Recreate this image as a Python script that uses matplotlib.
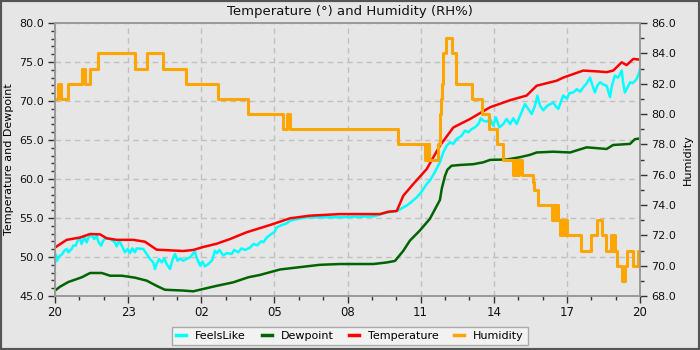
import matplotlib
matplotlib.use("Agg")
import matplotlib.pyplot as plt
from matplotlib.patches import Rectangle
from matplotlib.ticker import MultipleLocator, FormatStrFormatter

# Hours since 20:00 and readings
temp_h = [0.0, 0.04, 0.48, 1.03, 1.44, 1.85, 2.12, 2.53, 3.21, 3.69, 4.17, 5.26, 5.67,
          6.08, 6.63, 7.18, 7.86, 8.82, 9.64, 10.46, 11.69, 13.33, 13.67, 14.02, 14.29,
          14.70, 15.25, 15.79, 16.34, 17.03, 17.85, 18.67, 19.35, 19.76, 20.58, 20.85,
          21.67, 22.22, 22.63, 22.90, 23.25, 23.45, 23.73, 24.0]
temperature = [51.2, 51.3, 52.2, 52.5, 52.95, 52.9, 52.4, 52.2, 52.2, 51.96, 50.94, 50.77,
               50.9, 51.28, 51.7, 52.3, 53.17, 54.1, 54.96, 55.3, 55.5, 55.5, 55.8, 55.9,
               57.86, 59.36, 61.28, 64.27, 66.6, 67.7, 69.2, 70.1, 70.7, 71.96, 72.6, 73.0,
               73.9, 73.8, 73.7, 73.9, 74.96, 74.6, 75.4, 75.3]

dew_h = [0.0, 0.21, 0.55, 1.10, 1.44, 1.92, 2.26, 2.74, 3.28, 3.76, 4.17, 4.51, 5.26, 5.67,
         6.08, 6.63, 7.31, 7.93, 8.41, 9.23, 10.05, 10.87, 11.69, 13.06, 13.61, 13.95,
         14.29, 14.56, 14.97, 15.38, 15.79, 15.87, 16.0, 16.1, 16.27, 16.62, 17.16, 17.57,
         17.85, 18.53, 19.08, 19.49, 19.76, 20.44, 21.13, 21.81, 22.63, 22.90, 23.59,
         23.79, 24.0]
dewpoint = [45.7, 46.2, 46.8, 47.4, 47.95, 47.95, 47.6, 47.6, 47.35, 46.97, 46.3, 45.8, 45.7,
            45.6, 45.9, 46.3, 46.75, 47.4, 47.7, 48.4, 48.7, 49.0, 49.1, 49.1, 49.3, 49.5,
            50.8, 52.1, 53.4, 54.9, 57.3, 58.8, 60.4, 61.2, 61.7, 61.8, 61.9, 62.14,
            62.45, 62.5, 62.8, 63.1, 63.4, 63.5, 63.4, 64.06, 63.85, 64.36, 64.5,
            65.1, 65.2]

feels_h = [0.0, 0.04, 0.08, 0.14, 0.21, 0.30, 0.38, 0.48, 0.55, 0.68, 0.75, 0.85, 0.93,
           1.03, 1.09, 1.20, 1.30, 1.37, 1.50, 1.61, 1.71, 1.78, 1.89, 1.98, 2.08, 2.26,
           2.46, 2.53, 2.63, 2.74, 2.87, 2.98, 3.08, 3.17, 3.28, 3.35, 3.62, 3.76, 3.90,
           4.03, 4.10, 4.17, 4.27, 4.38, 4.49, 4.58, 4.72, 4.81, 4.92, 5.03, 5.13, 5.26,
           5.54, 5.74, 5.80, 5.95, 6.05, 6.15, 6.29, 6.45, 6.56, 6.65, 6.75, 6.90, 7.05,
           7.25, 7.35, 7.52, 7.65, 7.80, 8.0, 8.14, 8.30, 8.45, 8.55, 8.69, 8.85, 9.0,
           9.10, 9.30, 9.50, 9.64, 10.0, 10.33, 11.69, 13.06, 13.61, 14.02, 14.20, 14.43,
           14.60, 14.84, 15.0, 15.25, 15.40, 15.55, 15.79, 15.93, 16.07, 16.21, 16.34,
           16.48, 16.68, 16.82, 16.96, 17.09, 17.23, 17.37, 17.47, 17.57, 17.71, 17.85,
           17.98, 18.09, 18.23, 18.39, 18.53, 18.67, 18.80, 18.94, 19.08, 19.28, 19.42,
           19.56, 19.69, 19.79, 19.90, 20.03, 20.20, 20.44, 20.55, 20.65, 20.85, 21.0,
           21.10, 21.26, 21.40, 21.55, 21.67, 21.80, 21.95, 22.05, 22.15, 22.25, 22.36,
           22.50, 22.63, 22.77, 22.85, 22.97, 23.10, 23.25, 23.30, 23.38, 23.50, 23.59,
           23.70, 23.86, 23.95, 24.0]
feels_like = [49.6, 50.3, 49.5, 49.96, 50.17, 50.38, 50.81, 51.03, 50.6, 51.03, 51.46,
              51.46, 52.1, 52.31, 51.67, 52.52, 51.88, 52.52, 52.82, 52.31, 52.74, 51.97,
              51.46, 52.1, 52.4, 52.31, 51.88, 51.37, 52.1, 51.46, 50.6, 51.03, 50.52,
              51.11, 50.6, 51.11, 51.03, 50.38, 49.74, 49.31, 48.46, 49.1, 49.74, 49.31,
              49.82, 49.1, 48.46, 49.53, 50.38, 49.53, 49.82, 49.53,
              49.96, 50.7, 50.0, 48.9, 49.4, 48.8, 49.1, 49.6, 50.8, 50.5, 50.9, 50.2, 50.5,
              50.4, 50.9, 50.6, 51.1, 50.9, 51.2, 51.67, 51.5, 52.0, 51.9, 52.5, 52.9, 53.2,
              53.8, 54.1, 54.3, 54.65, 54.9, 55.1, 55.1, 55.2, 55.7, 55.9, 56.2, 56.6,
              57.0, 57.65, 58.2, 59.36, 59.9, 60.7, 62.14, 63.42, 64.27, 64.7, 64.5,
              65.13, 65.55, 66.2, 65.99, 66.4, 66.62, 67.05, 67.78, 67.47, 67.35, 67.7,
              66.83, 67.9, 66.62, 67.05, 67.7, 67.05, 67.78, 67.05, 68.12, 69.6, 68.97,
              68.33, 69.4, 70.68, 69.4, 68.8, 69.4, 69.8, 69.3, 69.0, 70.7, 70.3,
              71.0, 71.1, 71.5, 71.2, 71.75, 72.2, 73.0, 72.0, 71.1, 72.0, 72.4,
              72.1, 71.96, 70.5, 72.0, 73.25, 73.0, 73.9, 72.5, 71.1, 71.8, 72.4,
              72.3, 72.8, 73.5, 74.1]

# Humidity changes in whole steps: (hour, new value)
hum_h = [0.0, 0.12, 0.25, 0.52, 1.10, 1.22, 1.44, 1.78, 3.28, 3.76, 4.44, 5.36, 6.67, 7.93,
         9.34, 9.50, 9.64, 14.08, 15.18, 15.23, 15.28, 15.33, 15.36, 15.73, 15.79, 15.84,
         15.88, 15.93, 16.04, 16.30, 16.44, 17.09, 17.53, 17.81, 18.12, 18.39, 18.78,
         18.88, 18.95, 19.04, 19.14, 19.60, 19.67, 19.83, 20.38, 20.45, 20.52, 20.58,
         20.65, 20.72, 20.80, 20.88, 20.95, 21.02, 21.58, 21.99, 22.22, 22.43, 22.60,
         22.81, 22.87, 22.92, 22.97, 23.07, 23.27, 23.37, 23.45, 23.73, 23.93, 24.0]
humidity = [81, 82, 81, 82, 83, 82, 83, 84, 83, 84, 83, 82, 81, 80,
            79, 80, 79, 78, 77, 78, 77, 78, 77, 78, 80, 81,
            82, 84, 85, 84, 82, 81, 80, 79, 78, 77, 76,
            77, 76, 77, 76, 75.5, 75, 74, 73, 74, 73, 74,
            73, 72, 73, 72, 73, 72, 71, 72, 73, 72, 71,
            72, 71, 72, 71, 70, 69, 70, 71, 70, 71, 71]

tick_hours = [0, 3, 6, 9, 12, 15, 18, 21, 24]
tick_labels = ["20", "23", "02", "05", "08", "11", "14", "17", "20"]

bg = "#e6e6e6"
fig = plt.figure(figsize=(7, 3.5), dpi=100, facecolor=bg)
ax = fig.add_axes([55 / 700, 1 - 296 / 350, 585 / 700, 273 / 350])
ax.set_facecolor(bg)
ax2 = ax.twinx()

lw = 1.8
l1, = ax.plot(feels_h, feels_like, color="#00ffff", lw=lw, label="FeelsLike")
l2, = ax.plot(dew_h, dewpoint, color="#006400", lw=lw, label="Dewpoint")
l3, = ax.plot(temp_h, temperature, color="#ff0000", lw=lw, label="Temperature")
l4, = ax2.step(hum_h, humidity, where="post", color="#ffa500", lw=2.2, label="Humidity")

ax.set_xlim(0, 24)
ax.set_ylim(45, 80)
ax2.set_ylim(68, 86)

ax.set_xticks(tick_hours)
ax.set_xticklabels(tick_labels)
ax.xaxis.set_minor_locator(MultipleLocator(1))
ax.yaxis.set_major_locator(MultipleLocator(5))
ax.yaxis.set_minor_locator(MultipleLocator(1))
ax.yaxis.set_major_formatter(FormatStrFormatter("%.1f"))
ax2.yaxis.set_major_locator(MultipleLocator(2))
ax2.yaxis.set_minor_locator(MultipleLocator(1))
ax2.yaxis.set_major_formatter(FormatStrFormatter("%.1f"))

ax.grid(True, which="major", color="#c0c0c0", linestyle=(0, (4, 3)), linewidth=1)
ax.set_axisbelow(True)

for a in (ax, ax2):
    for s in a.spines.values():
        s.set_color("#999999")
        s.set_linewidth(1.2)
    a.tick_params(which="major", length=5, width=1, color="#333333", labelsize=8,
                  labelcolor="#111111", pad=3)
    a.tick_params(which="minor", length=3, width=1, color="#333333")
ax.tick_params(axis="x", labelsize=8.5, pad=2)

ax.set_ylabel("Temperature and Dewpoint", fontsize=8)
ax.yaxis.set_label_coords((14 - 55) / 585, 0.5)
ax2.set_ylabel("Humidity", fontsize=8)
ax2.yaxis.set_label_coords((683 - 55) / 585, 0.5)
fig.text(0.5, 1 - 11 / 350, "Temperature (°) and Humidity (RH%)", ha="center", va="center",
         fontsize=9.5, color="#111111")

leg = fig.legend(handles=[l1, l2, l3, l4], loc="center", bbox_to_anchor=(0.5, 1 - 336 / 350),
                 ncol=4, fontsize=8, frameon=True, fancybox=False, handlelength=0.9,
                 columnspacing=1.4, borderpad=0.35, handletextpad=0.8)
leg.get_frame().set_facecolor("#f6f6f6")
leg.get_frame().set_edgecolor("#999999")
leg.get_frame().set_linewidth(1)
for line in leg.get_lines():
    line.set_linewidth(2.5)

fig.patches.append(Rectangle((0, 0), 1, 1, transform=fig.transFigure, fill=False,
                             edgecolor="#555555", linewidth=3))

fig.savefig("out.png", dpi=100, facecolor=bg)
